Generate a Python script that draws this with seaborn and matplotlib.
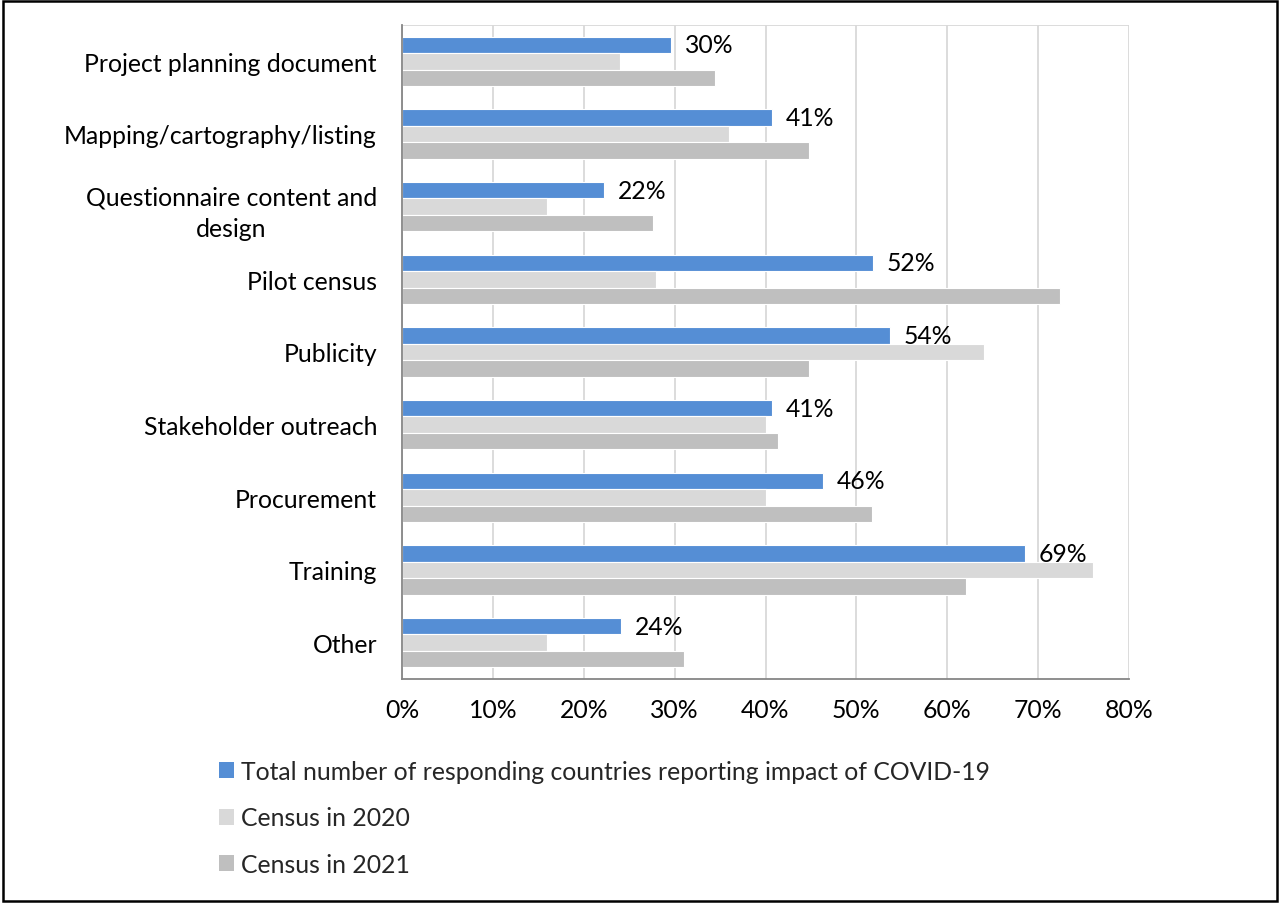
import matplotlib
matplotlib.use("Agg")
import matplotlib.pyplot as plt
from matplotlib.patches import Patch, Rectangle
from matplotlib.ticker import FixedLocator, FuncFormatter
import pandas as pd
import seaborn as sns

# Census stages affected by COVID-19 (share of responding countries, %)
stages = [
    "Project planning document",
    "Mapping/cartography/listing",
    "Questionnaire content and\ndesign",
    "Pilot census",
    "Publicity",
    "Stakeholder outreach",
    "Procurement",
    "Training",
    "Other",
]
series = [
    "Total number of responding countries reporting impact of COVID-19",
    "Census in 2020",
    "Census in 2021",
]
total_pct = [29.63, 40.74, 22.22, 51.85, 53.70, 40.74, 46.30, 68.52, 24.07]
census_2020_pct = [24, 36, 16, 28, 64, 40, 40, 76, 16]
census_2021_pct = [34.48, 44.83, 27.59, 72.41, 44.83, 41.38, 51.72, 62.07, 31.03]
x_ticks = [0, 10, 20, 30, 40, 50, 60, 70, 80]

colors = ["#558ED5", "#D9D9D9", "#BFBFBF"]
grid_color = "#D9D9D9"
axis_color = "#868686"

df = pd.DataFrame({
    "Stage": stages * 3,
    "Share": total_pct + census_2020_pct + census_2021_pct,
    "Series": [series[0]] * 9 + [series[1]] * 9 + [series[2]] * 9,
})

sns.set_style("white")
plt.rcParams["font.family"] = ["Lato", "DejaVu Sans"]
FS = 17.8

fig = plt.figure(figsize=(12.79, 9.04), dpi=100)
W, H = 1279, 904
ax = fig.add_axes([402 / W, 1 - 680 / H, (1129 - 402) / W, (680 - 26) / H])

sns.barplot(
    data=df, x="Share", y="Stage", hue="Series",
    order=stages, hue_order=series, palette=colors, saturation=1,
    orient="h", width=0.675, errorbar=None,
    edgecolor="white", linewidth=0.8, legend=False, ax=ax,
)

ax.set_xlim(0, 80)
ax.set_ylim(len(stages) - 0.5, -0.5)
ax.set_xlabel("")
ax.set_ylabel("")

# vertical gridlines behind bars
ax.xaxis.set_major_locator(FixedLocator(x_ticks))
ax.xaxis.set_major_formatter(FuncFormatter(lambda v, _: f"{v:.0f}%"))
ax.set_axisbelow(True)
ax.grid(axis="x", color=grid_color, linewidth=1.3)
ax.grid(axis="y", visible=False)

for side in ["top", "right"]:
    ax.spines[side].set_visible(False)
ax.spines["left"].set_color(axis_color)
ax.spines["bottom"].set_color(axis_color)
ax.spines["left"].set_linewidth(1.3)
ax.spines["bottom"].set_linewidth(1.3)
ax.axhline(-0.5, color=grid_color, linewidth=1.3, zorder=0.5)

ax.tick_params(axis="x", which="major", length=5, width=1.3, color=axis_color,
               labelsize=FS, pad=9, labelcolor="black")
# category labels centred, tick marks at category boundaries
ax.tick_params(axis="y", which="major", length=0, labelsize=FS, pad=18,
               labelcolor="black")
ax.yaxis.set_minor_locator(FixedLocator([i - 0.5 for i in range(len(stages) + 1)]))
ax.tick_params(axis="y", which="minor", length=6, width=1.3, color=axis_color)
for lab in ax.get_yticklabels():
    lab.set_multialignment("center")
    lab.set_linespacing(1.45)

# value labels on the total series
for bar, v in zip(ax.containers[0], total_pct):
    yc = bar.get_y() + bar.get_height() / 2
    ax.annotate(f"{int(v + 0.5)}%", xy=(bar.get_width(), yc),
                xytext=(10, 0), textcoords="offset points",
                ha="left", va="center", fontsize=FS, color="black")

handles = [Patch(facecolor=c, edgecolor="none") for c in colors]
fig.legend(
    handles, series, loc="upper left",
    bbox_to_anchor=(219 / W, 1 - 761 / H),
    frameon=False, fontsize=FS, borderpad=0, borderaxespad=0,
    handlelength=0.6, handleheight=0.6, handletextpad=0.3,
    labelspacing=0.95,
)

# outer frame
fig.patches.append(Rectangle((3 / W, 2 / H), (1277 - 3) / W, (902 - 2) / H,
                             transform=fig.transFigure, fill=False,
                             edgecolor="black", linewidth=1.8))

fig.savefig("out.png", dpi=100)
